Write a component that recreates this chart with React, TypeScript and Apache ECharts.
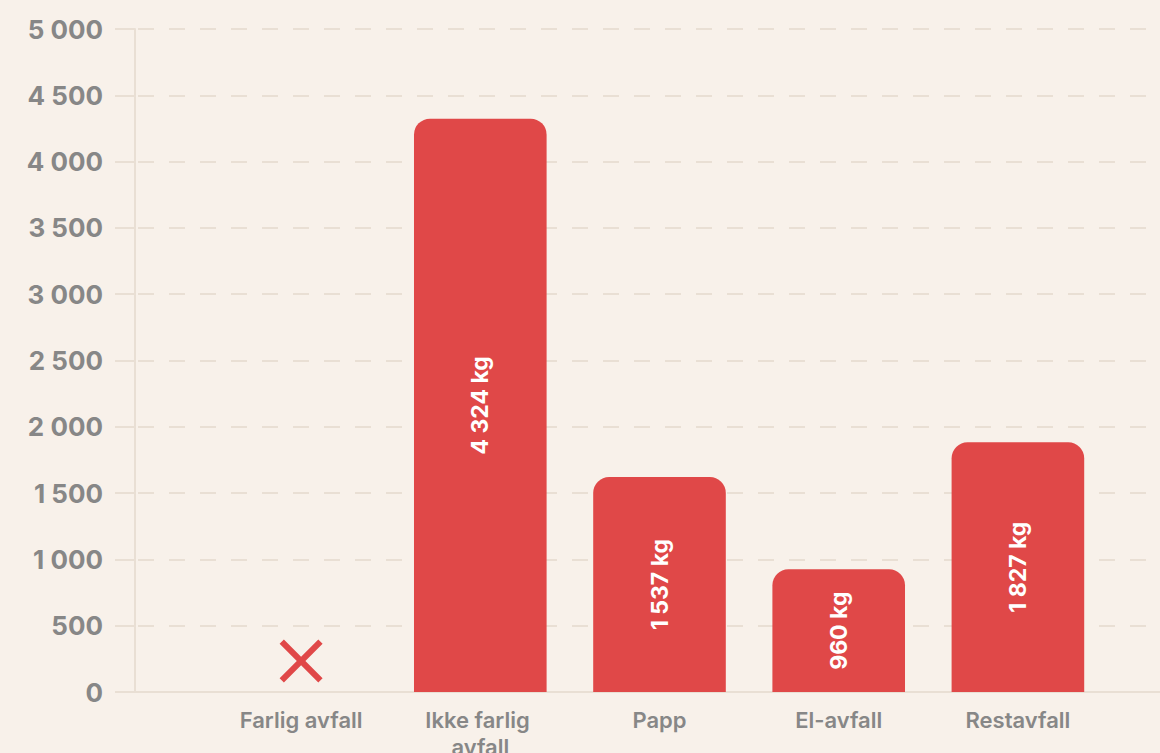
import React, { useEffect, useRef } from "react";
import * as echarts from "echarts";

const categories = ["Farlig avfall", "Ikke farlig avfall", "Papp", "El-avfall", "Restavfall"];
const barValues = [0, 4324, 1621, 925, 1883];
const barLabels = ["", "4 324 kg", "1 537 kg", "960 kg", "1 827 kg"];
const markerValues = [0, null, null, null, null];
const yMin = 0;
const yMax = 5000;
const yInterval = 500;

const BG = "#F8F1EA";
const RED = "#E04848";
const GRID = "#E9DFD4";
const LABEL = "#878787";
const FONT = "Inter, 'Open Sans', sans-serif";

const fmt = (v: number) => String(v).replace(/\B(?=(\d{3})+(?!\d))/g, " ");

export default function App() {
  const ref = useRef<HTMLDivElement>(null);
  useEffect(() => {
    if (!ref.current) return;
    const chart = echarts.init(ref.current, null, { renderer: "svg" });
    const option: any = {
      animation: false,
      backgroundColor: BG,
      grid: [
        { left: 135, right: 0, top: 29, bottom: 61, containLabel: false, outerBoundsMode: "none" },
        { left: 211.5, right: 52.5, top: 29, bottom: 61, containLabel: false, outerBoundsMode: "none" },
      ],
      xAxis: [
        {
          gridIndex: 0,
          type: "category",
          data: categories,
          axisLine: { show: true, lineStyle: { color: GRID, width: 2 } },
          axisTick: { show: false },
          axisLabel: { show: false },
          splitLine: { show: false },
        },
        {
          gridIndex: 1,
          type: "category",
          data: categories,
          axisLine: { show: false },
          axisTick: { show: false },
          axisLabel: {
            interval: 0,
            margin: 14,
            color: LABEL,
            fontFamily: FONT,
            fontSize: 22,
            fontWeight: 600,
            lineHeight: 27,
            width: 150,
            overflow: "break",
          },
        },
      ],
      yAxis: [
        {
          gridIndex: 0,
          type: "value",
          min: yMin,
          max: yMax,
          interval: yInterval,
          axisLine: { show: true, lineStyle: { color: GRID, width: 2 } },
          axisTick: { show: true, length: 20, lineStyle: { color: GRID, width: 2 } },
          axisLabel: {
            margin: 32,
            color: LABEL,
            fontFamily: FONT,
            fontSize: 26,
            fontWeight: 700,
            formatter: (v: number) => fmt(v),
          },
          splitLine: {
            show: true,
            lineStyle: { color: GRID, width: 2, type: [16, 15], dashOffset: 28 },
          },
        },
        {
          gridIndex: 1,
          type: "value",
          min: yMin,
          max: yMax,
          interval: yInterval,
          show: false,
          splitLine: { show: false },
        },
      ],
      series: [
        {
          type: "bar",
          xAxisIndex: 1,
          yAxisIndex: 1,
          data: barValues,
          barWidth: "74%",
          itemStyle: { color: RED, borderRadius: [16, 16, 0, 0] },
          label: {
            show: true,
            position: "inside",
            rotate: 90,
            color: "#FFFFFF",
            fontFamily: FONT,
            fontSize: 23,
            fontWeight: 700,
            formatter: (p: any) => barLabels[p.dataIndex],
          },
        },
        {
          type: "scatter",
          xAxisIndex: 1,
          yAxisIndex: 1,
          data: markerValues,
          symbol:
            "path://M2,0 L10,8 L18,0 L20,2 L12,10 L20,18 L18,20 L10,12 L2,20 L0,18 L8,10 L0,2 Z",
          symbolSize: 43,
          symbolOffset: [0, -31],
          itemStyle: { color: RED, opacity: 1 },
        },
      ],
    };
    chart.setOption(option);
    return () => chart.dispose();
  }, []);
  return (
    <div
      ref={ref}
      style={{ position: "fixed", left: 0, top: 0, width: 1160, height: 753, background: BG }}
    />
  );
}
